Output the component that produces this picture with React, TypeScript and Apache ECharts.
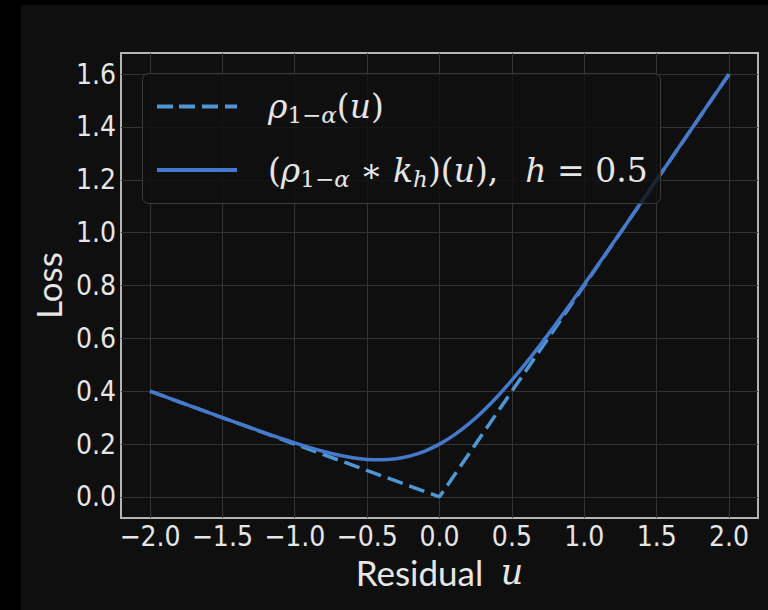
import React, { useEffect, useRef } from "react";
import * as echarts from "echarts";

// ---- data ----
const residualU = [
  -2.0, -1.9, -1.8, -1.7, -1.6, -1.5, -1.4, -1.3, -1.2, -1.1, -1.0, -0.9, -0.8, -0.7, -0.6, -0.5, -0.4,
  -0.3, -0.2, -0.1, 0.0, 0.1, 0.2, 0.3, 0.4, 0.5, 0.6, 0.7, 0.8, 0.9, 1.0, 1.1, 1.2, 1.3, 1.4, 1.5, 1.6,
  1.7, 1.8, 1.9, 2.0,
];
const smoothedLoss = [
  0.4, 0.38, 0.36, 0.34, 0.3201, 0.3002, 0.2804, 0.2607, 0.2414, 0.2225, 0.2043, 0.1871, 0.1716, 0.1583,
  0.1481, 0.1417, 0.1401, 0.1443, 0.1552, 0.1735, 0.1995, 0.2335, 0.2752, 0.3243, 0.3801, 0.4417, 0.5081,
  0.5783, 0.6516, 0.7271, 0.8043, 0.8825, 0.9614, 1.0407, 1.1204, 1.2002, 1.2801, 1.36, 1.44, 1.52, 1.6,
];
const checkU = [-2.0, 0.0, 2.0];
const checkLoss = [0.4, 0.0, 1.6];
const xTicks = [-2.0, -1.5, -1.0, -0.5, 0.0, 0.5, 1.0, 1.5, 2.0];
const yTicks = [0.0, 0.2, 0.4, 0.6, 0.8, 1.0, 1.2, 1.4, 1.6];
const seriesNames = ["check", "smoothed"];

const TEXT = "#e6e6e6";
const SANS = "'Liberation Sans Narrow', 'DejaVu Sans Condensed', Lato, sans-serif";
const TITLE = "Lato, 'DejaVu Sans', sans-serif";
const SERIF = "'DejaVu Serif', 'Liberation Serif', serif";
const DASHED = "#4d98d4";
const SOLID = "#4479cc";

const tickFmt = (ticks: number[]) => (v: number) => {
  const t = ticks.find((k) => Math.abs(k - v) < 1e-6);
  if (t === undefined) return "";
  return t.toFixed(1).replace("-", "\u2212");
};

const legendText: Record<string, string> = {
  check: "{g| }{i|\u03c1}{s|1\u2212}{si|\u03b1}{n|(}{i|u}{n|)}",
  smoothed:
    "{g| }{n|(}{i|\u03c1}{s|1\u2212}{si|\u03b1}{n| \u2217 }{i|k}{si|h}{n|)(}{i|u}{n|),\u2002 }{i|h}{n| = 0.5}",
};

export default function App() {
  const ref = useRef<HTMLDivElement>(null);
  useEffect(() => {
    if (!ref.current) return;
    const chart = echarts.init(ref.current, undefined, { renderer: "svg" });
    const main = { fontFamily: SERIF, fontSize: 33, lineHeight: 40, color: TEXT };
    const sub = { fontFamily: SERIF, fontSize: 23, lineHeight: 24, verticalAlign: "bottom", color: TEXT };
    chart.setOption({
      animation: false,
      backgroundColor: "#0f0f0f",
      graphic: [
        { type: "rect", shape: { x: 0, y: 0, width: 21, height: 610 }, style: { fill: "#000" }, z: -10 },
        { type: "rect", shape: { x: 0, y: 0, width: 768, height: 5 }, style: { fill: "#000" }, z: -10 },
        {
          type: "rect",
          shape: { x: 142.5, y: 73.5, width: 518, height: 130, r: 6 },
          style: { fill: "rgba(15,15,15,0.8)", stroke: "#3a3a3a", lineWidth: 1 },
          z: 3,
        },
      ],
      grid: {
        left: 121,
        right: 10,
        top: 53,
        bottom: 92,
        show: true,
        borderColor: "#b4b4b4",
        borderWidth: 2,
        backgroundColor: "transparent",
      },
      legend: {
        orient: "vertical",
        left: 157,
        top: 90,
        padding: 0,
        itemWidth: 80,
        itemHeight: 4,
        itemGap: 27,
        itemStyle: { borderWidth: 0 },
        data: [
          { name: "check", icon: "path://M0,0h16v4h-16z M22,0h16v4h-16z M45,0h16v4h-16z M68,0h12v4h-12z" },
          { name: "smoothed", icon: "path://M0,0h80v4h-80z" },
        ],
        formatter: (name: string) => legendText[name],
        textStyle: {
          color: TEXT,
          rich: {
            g: { width: 26 },
            n: main,
            i: { ...main, fontStyle: "italic" },
            s: sub,
            si: { ...sub, fontStyle: "italic" },
          },
        },
      },
      xAxis: {
        type: "value",
        min: -2.2,
        max: 2.2,
        splitNumber: 9,
        axisLine: { show: false },
        axisTick: { show: false },
        splitLine: { show: true, showMinLine: false, showMaxLine: false, lineStyle: { color: "#333", width: 1 } },
        axisLabel: {
          color: TEXT,
          fontSize: 28,
          fontFamily: SANS,
          margin: 4,
          formatter: tickFmt(xTicks),
          showMinLabel: false,
          showMaxLabel: false,
        },
        name: "{a|Residual\u2002}{b|u}",
        nameLocation: "middle",
        nameGap: 29,
        nameTextStyle: {
          rich: {
            a: { fontFamily: TITLE, fontSize: 35, color: TEXT, lineHeight: 44 },
            b: { fontFamily: SERIF, fontStyle: "italic", fontSize: 35, color: TEXT, lineHeight: 44 },
          },
        },
      },
      yAxis: {
        type: "value",
        min: -0.08,
        max: 1.68,
        splitNumber: 8,
        axisLine: { show: false },
        axisTick: { show: false },
        splitLine: { show: true, showMinLine: false, showMaxLine: false, lineStyle: { color: "#333", width: 1 } },
        axisLabel: {
          color: TEXT,
          fontSize: 28,
          fontFamily: SANS,
          margin: 5,
          formatter: tickFmt(yTicks),
          showMinLabel: false,
          showMaxLabel: false,
        },
        name: "Loss",
        nameLocation: "middle",
        nameGap: 52,
        nameTextStyle: { fontFamily: TITLE, fontSize: 35, color: TEXT },
      },
      series: [
        {
          name: seriesNames[0],
          type: "line",
          data: checkU.map((u, i) => [u, checkLoss[i]]),
          symbol: "none",
          color: DASHED,
          lineStyle: { color: DASHED, width: 3.5, type: [16, 7] },
          z: 2,
        },
        {
          name: seriesNames[1],
          type: "line",
          data: residualU.map((u, i) => [u, smoothedLoss[i]]),
          symbol: "none",
          smooth: 0.2,
          color: SOLID,
          lineStyle: { color: SOLID, width: 3.5 },
          z: 2,
        },
      ],
    });
    return () => chart.dispose();
  }, []);
  return <div ref={ref} style={{ position: "fixed", left: 0, top: 0, width: 768, height: 610 }} />;
}
